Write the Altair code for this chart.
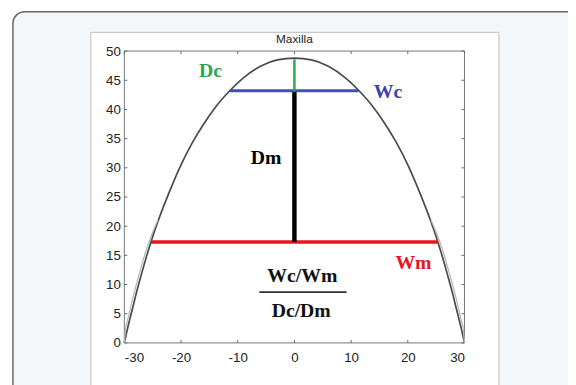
import altair as alt
import pandas as pd

# ---- data ----
curve_x = [-30, -29.5, -29.0, -28.4, -28.0, -27.0, -26.0, -25.3, -24.0, -22.0, -20.0,
           -18.0, -16.0, -14.0, -11.4, -9.0, -6.0, -3.0, 0,
           3.0, 6.0, 9.0, 11.4, 14.0, 16.0, 18.0, 20.0, 22.0, 24.0, 25.3, 26.0,
           27.0, 28.0, 28.4, 29.0, 29.5, 30]
curve_y = [0, 2.2, 4.2, 6.5, 8.1, 11.7, 15.1, 17.3, 21.0, 26.0, 30.5,
           34.3, 37.5, 40.3, 43.2, 45.4, 47.4, 48.5, 48.8,
           48.5, 47.4, 45.4, 43.2, 40.3, 37.5, 34.3, 30.5, 26.0, 21.0, 17.3, 15.1,
           11.7, 8.1, 6.5, 4.2, 2.2, 0]

outer_side = ["L"] * 9 + ["R"] * 9
outer_x = [-30, -29.8, -29.35, -28.8, -28.4, -27.4, -26.4, -25.65, -24.1,
           24.1, 25.65, 26.4, 27.4, 28.4, 28.8, 29.35, 29.8, 30]
outer_y = [0, 2.2, 4.2, 6.5, 8.1, 11.7, 15.1, 17.3, 21.0,
           21.0, 17.3, 15.1, 11.7, 8.1, 6.5, 4.2, 2.2, 0]

seg_name = ["Wm", "Dm", "Wc", "Dc", "frac"]
seg_x1 = [-25.3, 0, -11.4, 0, -6.2]
seg_x2 = [25.3, 0, 11.3, 0, 9.2]
seg_y1 = [17.3, 17.3, 43.2, 43.2, 8.7]
seg_y2 = [17.3, 43.2, 43.2, 48.6, 8.7]

label_text = ["Dc", "Wc", "Dm", "Wm", "Wc/Wm", "Dc/Dm"]
label_x = [-14.8, 16.5, -5.0, 21.0, 1.4, 1.2]
label_y = [46.6, 42.9, 31.6, 13.6, 11.4, 5.5]

title_text = "Maxilla"

x_ticks = [-30, -20, -10, 0, 10, 20, 30]
y_ticks = [0, 5, 10, 15, 20, 25, 30, 35, 40, 45, 50]

# ---- styles ----
seg_style = {"Wm": ("#e8161e", 3.5), "Dm": ("#000000", 4.5), "Wc": ("#4350ae", 3.2),
             "Dc": ("#2bb04a", 2.6), "frac": ("#333333", 2)}
label_color = {"Dc": "#2aa845", "Wc": "#3a44a4", "Dm": "#000000", "Wm": "#e8161e",
               "Wc/Wm": "#111111", "Dc/Dm": "#111111"}

curve = pd.DataFrame({"x": curve_x, "y": curve_y})
outer = pd.DataFrame({"side": outer_side, "x": outer_x, "y": outer_y})
segs = pd.DataFrame({"name": seg_name, "x1": seg_x1, "x2": seg_x2, "y1": seg_y1, "y2": seg_y2})
labels = pd.DataFrame({"t": label_text, "x": label_x, "y": label_y})
xt = pd.DataFrame({"v": x_ticks})
yt = pd.DataFrame({"v": y_ticks})
one = pd.DataFrame({"a": [0]})
ttl = pd.DataFrame({"t": [title_text]})

xs = alt.Scale(domain=[-30, 30], nice=False, zero=False)
ys = alt.Scale(domain=[0, 50], nice=False, zero=False)

xaxis = alt.Axis(values=x_ticks, title=None, ticks=False, domain=False, grid=False, zindex=1,
                 labelOverlap=False, labelExpr="toString(datum.value)",
                 labelPadding=8, labelFontSize=13.5, labelColor="#222", labelFont="Liberation Sans")
yaxis = alt.Axis(values=y_ticks, tickCount=11, title=None, ticks=False, domain=False, grid=False,
                 zindex=1, labelOverlap=False, labelExpr="toString(datum.value)",
                 labelPadding=4, labelFontSize=13.5, labelColor="#222", labelFont="Liberation Sans")

# decorative background frames
outer_frame = alt.Chart(one).mark_rect(fill="#f4f7fa", stroke="#666666", strokeWidth=1.5,
                                       cornerRadius=12).encode(
    x=alt.value(-113), x2=alt.value(480), y=alt.value(-40), y2=alt.value(380))
panel = alt.Chart(one).mark_rect(fill="white", stroke="#bdbdbd", strokeWidth=1).encode(
    x=alt.value(-34), x2=alt.value(380), y=alt.value(-19), y2=alt.value(380))

main_line = alt.Chart(curve).mark_line(color="#4a4a4a", strokeWidth=1.7,
                                       interpolate="monotone").encode(
    x=alt.X("x:Q", scale=xs, axis=xaxis), y=alt.Y("y:Q", scale=ys, axis=yaxis))

box = alt.Chart(one).mark_rect(filled=False, stroke="#777777", strokeWidth=1).encode(
    x=alt.datum(-30), x2=alt.datum(30), y=alt.datum(0), y2=alt.datum(50))

tick_c = "#666666"
left_t = alt.Chart(yt).mark_rule(color=tick_c, strokeWidth=1, x2Offset=3).encode(
    x=alt.datum(-30), x2=alt.datum(-30), y=alt.Y("v:Q", axis=yaxis))
right_t = alt.Chart(yt).mark_rule(color=tick_c, strokeWidth=1, x2Offset=-3).encode(
    x=alt.datum(30), x2=alt.datum(30), y=alt.Y("v:Q", axis=yaxis))
bot_t = alt.Chart(xt).mark_rule(color=tick_c, strokeWidth=1, y2Offset=-3).encode(
    y=alt.datum(0), y2=alt.datum(0), x="v:Q")
top_t = alt.Chart(xt).mark_rule(color=tick_c, strokeWidth=1, y2Offset=3).encode(
    y=alt.datum(50), y2=alt.datum(50), x="v:Q")

outer_line = alt.Chart(outer).mark_line(color="#b5b5b5", strokeWidth=1.2,
                                        interpolate="monotone").encode(
    x="x:Q", y=alt.Y("y:Q", axis=yaxis), detail="side:N")

seg_layers = []
for n in seg_name:
    c, w = seg_style[n]
    seg_layers.append(
        alt.Chart(segs).transform_filter(alt.datum.name == n).mark_rule(
            color=c, strokeWidth=w).encode(x="x1:Q", x2="x2:Q",
                                           y=alt.Y("y1:Q", axis=yaxis), y2="y2:Q"))

text_layer = alt.Chart(labels).mark_text(font="Liberation Serif", fontWeight="bold",
                                         fontSize=20, align="center", baseline="middle").encode(
    x="x:Q", y=alt.Y("y:Q", axis=yaxis), text="t:N",
    color=alt.Color("t:N", scale=alt.Scale(domain=list(label_color.keys()),
                                           range=list(label_color.values())), legend=None))

title_layer = alt.Chart(ttl).mark_text(font="Liberation Sans", fontSize=12, color="#222",
                                       align="center", baseline="middle").encode(
    x=alt.datum(0), y=alt.value(-12), text="t:N")

chart = alt.layer(outer_frame, panel, main_line, box, left_t, right_t, bot_t, top_t,
                  outer_line, *seg_layers, text_layer, title_layer).properties(
    width=345, height=296,
    padding={"left": 118, "top": 41, "right": 105, "bottom": 40},
    autosize="none", background="white",
).configure_view(stroke=None).configure_axis(labelOverlap=False)

chart.save("out.html", embed_options={"renderer": "svg", "actions": False})
